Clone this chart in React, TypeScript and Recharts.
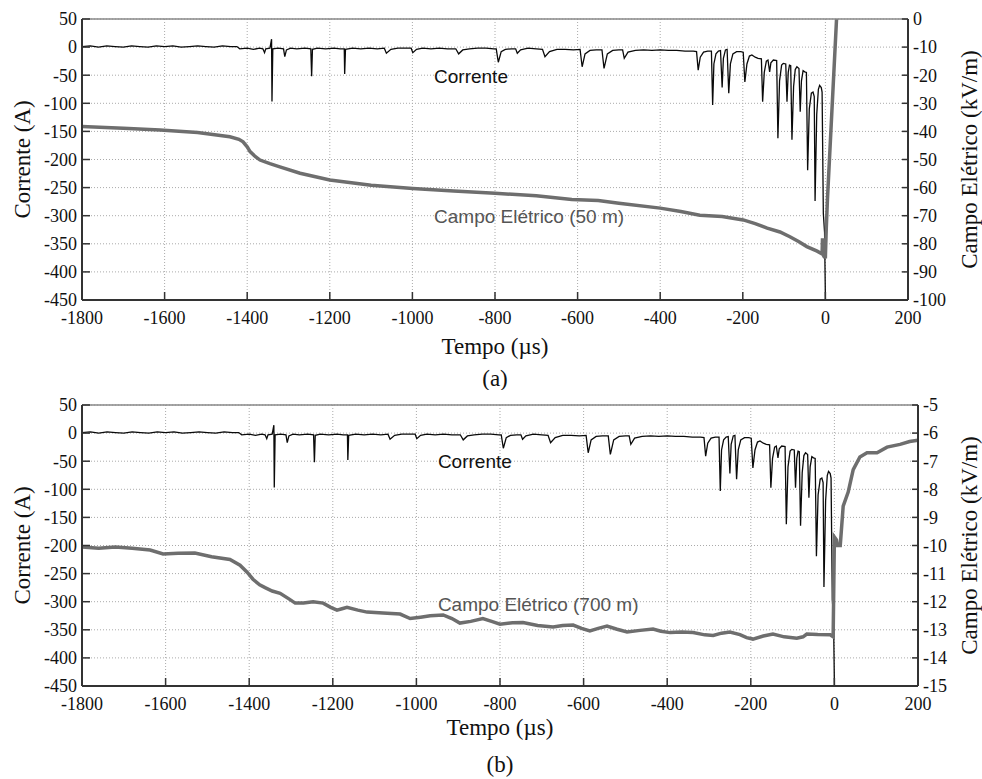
import { LineChart, Line, XAxis, YAxis, CartesianGrid, ReferenceDot, Label } from 'recharts';

const SERIF = '"Liberation Serif", "Times New Roman", serif';
const SANS = '"Liberation Sans", Arial, sans-serif';

const TIME_TICKS = [-1800, -1600, -1400, -1200, -1000, -800, -600, -400, -200, 0, 200];
const CURRENT_TICKS = [50, 0, -50, -100, -150, -200, -250, -300, -350, -400, -450];
const FIELD_50M_TICKS = [0, -10, -20, -30, -40, -50, -60, -70, -80, -90, -100];
const FIELD_700M_TICKS = [-5, -6, -7, -8, -9, -10, -11, -12, -13, -14, -15];

// current (A) vs time (µs), same record in both panels
const CURRENT: [number, number][] = [
  [-1800, 1], [-1780, 2], [-1760, 0], [-1740, 2], [-1720, 1], [-1700, 0], [-1680, 2], [-1660, 1],
  [-1640, 0], [-1620, 2], [-1600, 1], [-1580, 2], [-1560, 0], [-1540, 1], [-1520, 2], [-1500, 1],
  [-1480, 0], [-1460, 2], [-1440, 1], [-1425, 1], [-1418, -3], [-1400, -2], [-1385, -4], [-1370, -2],
  [-1362, -3], [-1358, -10], [-1355, -3], [-1345, -2], [-1341, 14], [-1340, -97], [-1338, -3],
  [-1325, -2], [-1312, -3], [-1309, -17], [-1305, -5], [-1295, -2], [-1280, -3], [-1260, -2],
  [-1246, -3], [-1244, -52], [-1242, -4], [-1230, -2], [-1210, -3], [-1190, -2], [-1175, -3],
  [-1165, -3], [-1164, -48], [-1162, -4], [-1145, -2], [-1125, -3], [-1105, -2], [-1085, -3],
  [-1068, -2], [-1063, -11], [-1052, -4], [-1035, -2], [-1015, -2], [-1003, -2], [-999, -10],
  [-990, -4], [-975, -2], [-955, -3], [-935, -2], [-915, -3], [-895, -3], [-888, -12], [-878, -5],
  [-862, -3], [-842, -2], [-822, -2], [-803, -3], [-797, -3], [-792, -27], [-785, -8], [-775, -4],
  [-760, -3], [-750, -3], [-746, -11], [-738, -5], [-720, -2], [-700, -3], [-685, -4], [-679, -17],
  [-668, -8], [-650, -4], [-630, -4], [-610, -5], [-594, -4], [-589, -35], [-582, -12], [-570, -6],
  [-555, -5], [-541, -5], [-536, -38], [-528, -12], [-515, -6], [-500, -5], [-491, -5], [-487, -20],
  [-478, -9], [-460, -6], [-440, -5], [-420, -6], [-400, -5], [-380, -6], [-360, -6], [-340, -7],
  [-320, -7], [-312, -8], [-308, -41], [-303, -18], [-295, -9], [-285, -7], [-276, -7], [-273, -103],
  [-270, -30], [-265, -12], [-259, -7], [-254, -6], [-250, -72], [-247, -20], [-242, -5], [-238, -4],
  [-234, -82], [-230, -30], [-224, -12], [-215, -8], [-205, -8], [-199, -9], [-195, -62], [-190, -30],
  [-184, -16], [-178, -14], [-170, -18], [-163, -20], [-155, -21], [-152, -97], [-148, -45],
  [-143, -25], [-139, -23], [-135, -44], [-132, -28], [-126, -23], [-118, -24], [-115, -162],
  [-111, -60], [-106, -32], [-102, -29], [-96, -30], [-93, -97], [-90, -45], [-87, -32], [-84, -33],
  [-81, -165], [-77, -70], [-73, -40], [-69, -35], [-64, -38], [-61, -115], [-58, -60], [-54, -42],
  [-50, -44], [-46, -45], [-43, -219], [-39, -110], [-34, -82], [-30, -80], [-27, -88], [-25, -274],
  [-21, -120], [-17, -75], [-14, -68], [-10, -72], [-8, -80], [-5, -296], [-2, -330], [0, -450],
];

// electric field at 50 m (kV/m)
const FIELD_50M: [number, number][] = [
  [-1800, -38.3], [-1700, -38.9], [-1611, -39.5], [-1520, -40.4], [-1442, -41.9], [-1420, -42.8],
  [-1410, -43.7], [-1400, -45.5], [-1393, -47.2], [-1380, -49], [-1369, -50.2], [-1345, -51.5],
  [-1321, -52.6], [-1272, -54.9], [-1200, -57.3], [-1100, -59.2], [-999, -60.3], [-900, -61.2],
  [-800, -62], [-700, -62.9], [-614, -64.2], [-550, -64.6], [-500, -65.6], [-400, -67.3],
  [-350, -68.5], [-304, -69.8], [-250, -70.3], [-199, -71.5], [-170, -72.8], [-141, -74.4],
  [-110, -75.8], [-86, -77.5], [-65, -79.2], [-45, -81], [-20, -82.6], [-8, -83.6], [-7, -78],
  [-6, -83.8], [-3, -84.6], [0, -84.6], [2, -75], [5, -64], [27, 0], [32, 15],
];

// electric field at 700 m (kV/m)
const FIELD_700M: [number, number][] = [
  [-1800, -10.05], [-1760, -10.1], [-1720, -10.05], [-1680, -10.1], [-1637, -10.16], [-1606, -10.3],
  [-1570, -10.28], [-1530, -10.27], [-1490, -10.4], [-1446, -10.5], [-1422, -10.7], [-1405, -10.95],
  [-1391, -11.2], [-1375, -11.4], [-1362, -11.5], [-1345, -11.62], [-1326, -11.7], [-1305, -11.9],
  [-1290, -12.05], [-1270, -12.05], [-1247, -12.0], [-1223, -12.05], [-1205, -12.2], [-1190, -12.3],
  [-1178, -12.25], [-1166, -12.2], [-1140, -12.3], [-1118, -12.37], [-1080, -12.4], [-1039, -12.44],
  [-1015, -12.6], [-990, -12.55], [-967, -12.5], [-936, -12.47], [-915, -12.6], [-896, -12.76],
  [-870, -12.7], [-841, -12.6], [-820, -12.7], [-800, -12.8], [-770, -12.75], [-745, -12.74],
  [-710, -12.85], [-673, -12.9], [-650, -12.85], [-625, -12.83], [-605, -12.95], [-585, -13.04],
  [-565, -12.95], [-544, -12.87], [-520, -12.98], [-496, -13.08], [-465, -13.02], [-434, -12.97],
  [-415, -13.05], [-393, -13.1], [-365, -13.08], [-338, -13.1], [-310, -13.18], [-290, -13.2],
  [-270, -13.12], [-250, -13.08], [-226, -13.17], [-210, -13.28], [-195, -13.33], [-170, -13.22],
  [-147, -13.15], [-120, -13.25], [-90, -13.3], [-75, -13.25], [-66, -13.15], [-40, -13.17],
  [-10, -13.18], [-3, -13.25], [0, -9.7], [5, -9.8], [7, -10.0], [14, -10.0], [21, -8.6],
  [33, -8.1], [45, -7.3], [61, -6.85], [78, -6.7], [102, -6.7], [126, -6.5], [157, -6.4],
  [180, -6.3], [200, -6.25],
];

const toPoints = (pairs: [number, number][]) => pairs.map(([t, v]) => ({ t, v }));

const tickStyle = { fill: '#111', fontSize: 18, fontFamily: SERIF };

function VerticalTitle({ viewBox, text, dx }: any) {
  const vb = viewBox || { x: 0, y: 0, width: 0, height: 0 };
  const cx = vb.x + dx;
  const cy = vb.y + vb.height / 2;
  return (
    <text
      x={cx}
      y={cy}
      transform={`rotate(-90 ${cx} ${cy})`}
      textAnchor="middle"
      dominantBaseline="central"
      fontFamily={SERIF}
      fontSize={23}
      fill="#111"
    >
      {text}
    </text>
  );
}

function TimeTitle({ viewBox, caption, titleDy, captionDy }: any) {
  const vb = viewBox || { x: 0, y: 0, width: 0, height: 0 };
  const cx = vb.x + vb.width / 2;
  return (
    <g fontFamily={SERIF} fontSize={23} fill="#111" textAnchor="middle">
      <text x={cx} y={vb.y + titleDy}>Tempo (µs)</text>
      <text x={cx} y={vb.y + captionDy}>{caption}</text>
    </g>
  );
}

interface PanelProps {
  top: number;
  height: number;
  marginTop: number;
  rightWidth: number;
  field: [number, number][];
  fieldTicks: number[];
  fieldLabel: string;
  caption: string;
  titleDy: number;
  captionDy: number;
  currentNote: [number, number];
  fieldNote: [number, number];
}

function Panel(p: PanelProps) {
  const fieldDomain = [p.fieldTicks[p.fieldTicks.length - 1], p.fieldTicks[0]];
  return (
    <div style={{ position: 'absolute', left: 0, top: p.top }}>
      <LineChart width={982} height={p.height} margin={{ top: p.marginTop, right: 0, bottom: 0, left: 0 }}>
        <CartesianGrid xAxisId="bottom" yAxisId="left" stroke="#aaa" strokeDasharray="1 2" />
        <XAxis
          xAxisId="bottom"
          dataKey="t"
          type="number"
          domain={[-1800, 200]}
          ticks={TIME_TICKS}
          interval={0}
          allowDataOverflow
          height={p.height - p.marginTop - 1 - 281}
          tick={tickStyle}
          tickSize={-8}
          tickMargin={19}
          axisLine={{ stroke: '#333', strokeWidth: 2 }}
          tickLine={{ stroke: '#333', strokeWidth: 1.5 }}
        >
          <Label
            content={(props: any) => (
              <TimeTitle viewBox={props.viewBox} caption={p.caption} titleDy={p.titleDy} captionDy={p.captionDy} />
            )}
          />
        </XAxis>
        <XAxis
          xAxisId="top"
          orientation="top"
          type="number"
          domain={[-1800, 200]}
          ticks={TIME_TICKS}
          interval={0}
          allowDataOverflow
          height={1}
          tick={false}
          tickSize={-8}
          axisLine={{ stroke: '#888', strokeWidth: 1.5 }}
          tickLine={{ stroke: '#333', strokeWidth: 1.5 }}
        />
        <YAxis
          yAxisId="left"
          type="number"
          domain={[-450, 50]}
          ticks={CURRENT_TICKS}
          interval={0}
          allowDataOverflow
          width={82}
          tick={tickStyle}
          tickSize={-8}
          tickMargin={13}
          axisLine={{ stroke: '#333', strokeWidth: 2 }}
          tickLine={{ stroke: '#333', strokeWidth: 1.5 }}
        >
          <Label content={(props: any) => <VerticalTitle viewBox={props.viewBox} text="Corrente (A)" dx={22} />} />
        </YAxis>
        <YAxis
          yAxisId="right"
          orientation="right"
          type="number"
          domain={fieldDomain}
          ticks={p.fieldTicks}
          interval={0}
          allowDataOverflow
          width={p.rightWidth}
          tick={tickStyle}
          tickSize={-6}
          tickMargin={11}
          axisLine={{ stroke: '#333', strokeWidth: 2 }}
          tickLine={{ stroke: '#333', strokeWidth: 1.5 }}
        >
          <Label
            content={(props: any) => (
              <VerticalTitle viewBox={props.viewBox} text="Campo Elétrico (kV/m)" dx={p.rightWidth - 13} />
            )}
          />
        </YAxis>
        <Line
          data={toPoints(CURRENT)}
          xAxisId="bottom"
          yAxisId="left"
          dataKey="v"
          type="linear"
          stroke="#0a0a0a"
          strokeWidth={1.3}
          dot={false}
          activeDot={false}
          isAnimationActive={false}
        />
        <Line
          data={toPoints(p.field)}
          xAxisId="bottom"
          yAxisId="right"
          dataKey="v"
          type="linear"
          stroke="#6e6e6e"
          strokeWidth={3.5}
          dot={false}
          activeDot={false}
          isAnimationActive={false}
        />
        <ReferenceDot
          xAxisId="bottom"
          yAxisId="left"
          x={p.currentNote[0]}
          y={p.currentNote[1]}
          r={1}
          fill="none"
          stroke="none"
          label={{ value: 'Corrente', position: 'right', offset: 0, fill: '#111', fontSize: 19, fontFamily: SANS }}
        />
        <ReferenceDot
          xAxisId="bottom"
          yAxisId="left"
          x={p.fieldNote[0]}
          y={p.fieldNote[1]}
          r={1}
          fill="none"
          stroke="none"
          label={{ value: p.fieldLabel, position: 'right', offset: 0, fill: '#555', fontSize: 19, fontFamily: SANS }}
        />
      </LineChart>
    </div>
  );
}

export default function App() {
  return (
    <div style={{ position: 'absolute', left: 0, top: 0, width: 982, height: 779, background: '#fff', overflow: 'hidden' }}>
      <Panel
        top={0}
        height={390}
        marginTop={18}
        rightWidth={74}
        field={FIELD_50M}
        fieldTicks={FIELD_50M_TICKS}
        fieldLabel="Campo Elétrico (50 m)"
        caption="(a)"
        titleDy={54}
        captionDy={86}
        currentNote={[-950, -52]}
        fieldNote={[-950, -301]}
      />
      <Panel
        top={390}
        height={389}
        marginTop={14}
        rightWidth={64}
        field={FIELD_700M}
        fieldTicks={FIELD_700M_TICKS}
        fieldLabel="Campo Elétrico (700 m)"
        caption="(b)"
        titleDy={49}
        captionDy={86}
        currentNote={[-951, -50]}
        fieldNote={[-951, -304]}
      />
    </div>
  );
}
